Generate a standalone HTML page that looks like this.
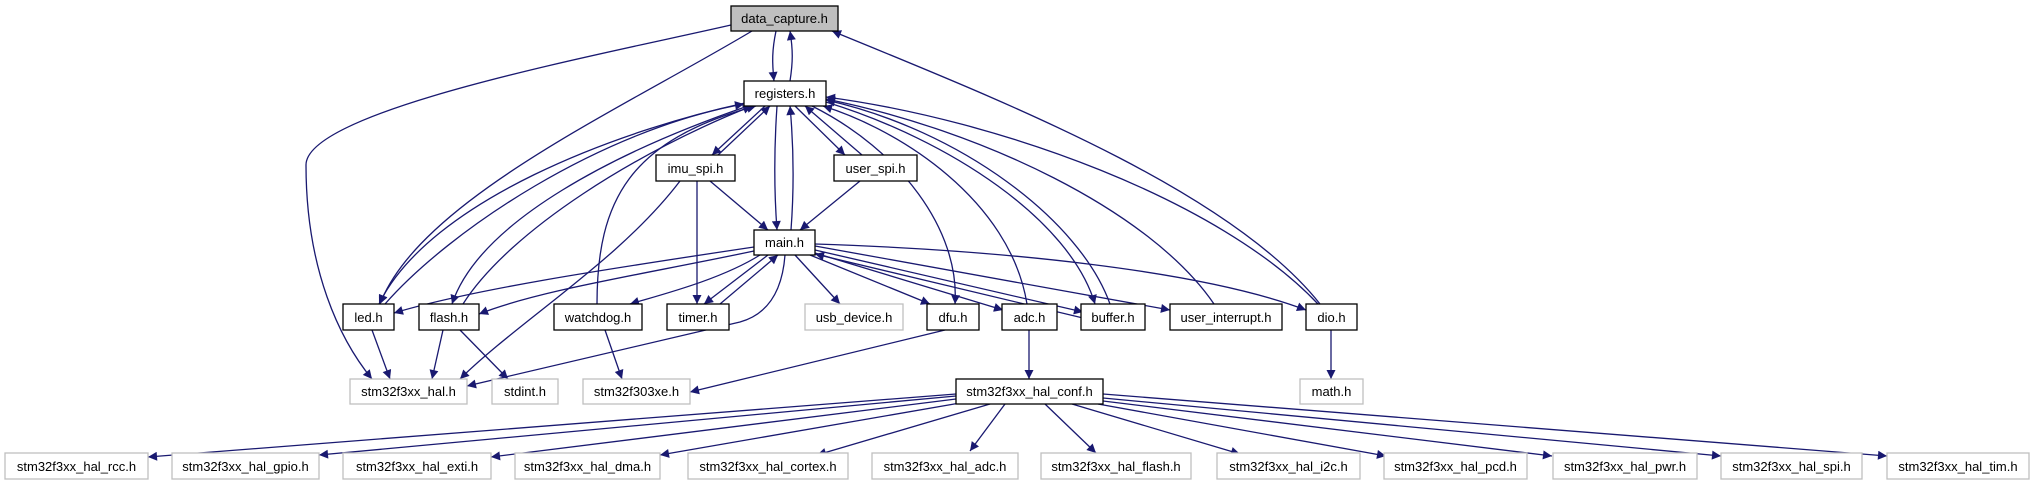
<!DOCTYPE html>
<html><head><meta charset="utf-8"><style>
html,body{margin:0;padding:0;background:#fff;}
svg{display:block;}
text{font-family:"Liberation Sans",sans-serif;font-size:13px;text-anchor:middle;fill:#000;}
.e{fill:none;stroke:#191970;stroke-width:1.3;marker-end:url(#a);}
.n{fill:#fff;stroke:#000;stroke-width:1.3;}
.g{fill:#fff;stroke:#bfbfbf;stroke-width:1.3;}
</style></head><body>
<svg width="2035" height="485" viewBox="0 0 2035 485" xmlns="http://www.w3.org/2000/svg">
<defs><marker id="a" viewBox="0 0 10 10" refX="10" refY="5" markerWidth="11" markerHeight="9" markerUnits="userSpaceOnUse" orient="auto"><path d="M0,0 L10,5 L0,10 z" fill="#191970"/></marker></defs>
<g>
<path class="e" d="M776,31 C772,50 772,62 774,81"/>
<path class="e" d="M790,81 C793,62 793,50 790,31"/>
<path class="e" d="M752,31 C620,110 420,200 380,304"/>
<path class="e" d="M731,25 C600,55 306,110 306,165 C306,270 340,340 372,379"/>
<path class="e" d="M1320,304 C1230,190 1000,100 832,31"/>
<path class="e" d="M765,106 L712,155"/>
<path class="e" d="M718,155 L770,106"/>
<path class="e" d="M795,106 L845,155"/>
<path class="e" d="M862,155 L805,106"/>
<path class="e" d="M777,106 C774,150 774,190 777,230"/>
<path class="e" d="M791,230 C794,190 794,150 790,106"/>
<path class="e" d="M745,103 C620,130 430,200 379,304"/>
<path class="e" d="M385,304 C450,230 600,130 744,104"/>
<path class="e" d="M748,106 C620,150 480,220 452,304"/>
<path class="e" d="M463,304 C510,230 640,150 752,106"/>
<path class="e" d="M597,304 C597,200 630,140 756,106"/>
<path class="e" d="M812,106 C900,150 960,230 955,304"/>
<path class="e" d="M1027,304 C1010,200 900,130 823,106"/>
<path class="e" d="M826,102 C950,140 1070,220 1095,304"/>
<path class="e" d="M1110,304 C1080,220 960,130 826,100"/>
<path class="e" d="M1214,304 C1150,210 980,130 826,99"/>
<path class="e" d="M1318,304 C1220,200 1000,120 826,97"/>
<path class="e" d="M680,181 C620,260 520,320 460,379"/>
<path class="e" d="M697,181 L697,304"/>
<path class="e" d="M710,181 L768,230"/>
<path class="e" d="M860,181 L800,230"/>
<path class="e" d="M754,247 C600,270 470,290 394,313"/>
<path class="e" d="M754,251 C640,275 540,290 479,314"/>
<path class="e" d="M760,255 C720,280 660,295 630,304"/>
<path class="e" d="M768,255 L704,304"/>
<path class="e" d="M720,304 L778,255"/>
<path class="e" d="M785,255 C782,295 765,315 740,322 L467,386"/>
<path class="e" d="M795,255 L840,304"/>
<path class="e" d="M810,255 L930,304"/>
<path class="e" d="M815,253 L1003,310"/>
<path class="e" d="M815,250 L1083,312"/>
<path class="e" d="M1083,318 L815,254"/>
<path class="e" d="M815,246 L1170,310"/>
<path class="e" d="M815,244 C1000,250 1200,270 1306,310"/>
<path class="e" d="M372,330 L390,379"/>
<path class="e" d="M443,330 L432,379"/>
<path class="e" d="M460,330 L508,379"/>
<path class="e" d="M605,330 L622,379"/>
<path class="e" d="M945,330 L690,392"/>
<path class="e" d="M1029,330 L1029,379"/>
<path class="e" d="M1331,330 L1331,379"/>
<path class="e" d="M956,394 L148,457"/>
<path class="e" d="M956,396 L319,455"/>
<path class="e" d="M956,399 L491,457"/>
<path class="e" d="M960,403 L660,455"/>
<path class="e" d="M990,404 L817,455"/>
<path class="e" d="M1005,404 L970,451"/>
<path class="e" d="M1045,404 L1096,453"/>
<path class="e" d="M1072,404 L1240,454"/>
<path class="e" d="M1098,404 L1386,456"/>
<path class="e" d="M1103,401 L1552,456"/>
<path class="e" d="M1103,398 L1721,456"/>
<path class="e" d="M1103,394 L1887,456"/>
</g>
<g>
<rect x="731" y="6" width="107" height="25" fill="#bfbfbf" stroke="#000" stroke-width="1.3"/><text x="784.5" y="23">data_capture.h</text>
<rect class="n" x="744" y="81" width="82" height="25"/><text x="785" y="98">registers.h</text>
<rect class="n" x="656" y="155" width="79" height="26"/><text x="695.5" y="173">imu_spi.h</text>
<rect class="n" x="834" y="155" width="83" height="26"/><text x="875.5" y="173">user_spi.h</text>
<rect class="n" x="754" y="230" width="61" height="25"/><text x="784.5" y="247">main.h</text>
<rect class="n" x="343" y="304" width="51" height="26"/><text x="368.5" y="322">led.h</text>
<rect class="n" x="419" y="304" width="60" height="26"/><text x="449" y="322">flash.h</text>
<rect class="n" x="554" y="304" width="88" height="26"/><text x="598" y="322">watchdog.h</text>
<rect class="n" x="667" y="304" width="62" height="26"/><text x="698" y="322">timer.h</text>
<rect class="g" x="805" y="304" width="98" height="26"/><text x="854" y="322">usb_device.h</text>
<rect class="n" x="927" y="304" width="52" height="26"/><text x="953" y="322">dfu.h</text>
<rect class="n" x="1002" y="304" width="55" height="26"/><text x="1029.5" y="322">adc.h</text>
<rect class="n" x="1081" y="304" width="64" height="26"/><text x="1113" y="322">buffer.h</text>
<rect class="n" x="1170" y="304" width="112" height="26"/><text x="1226" y="322">user_interrupt.h</text>
<rect class="n" x="1306" y="304" width="51" height="26"/><text x="1331.5" y="322">dio.h</text>
<rect class="g" x="350" y="379" width="117" height="25"/><text x="408.5" y="396">stm32f3xx_hal.h</text>
<rect class="g" x="492" y="379" width="66" height="25"/><text x="525" y="396">stdint.h</text>
<rect class="g" x="583" y="379" width="107" height="25"/><text x="636.5" y="396">stm32f303xe.h</text>
<rect class="n" x="956" y="379" width="147" height="25"/><text x="1029.5" y="396">stm32f3xx_hal_conf.h</text>
<rect class="g" x="1300" y="379" width="63" height="25"/><text x="1331.5" y="396">math.h</text>
<rect class="g" x="5" y="453" width="143" height="26"/><text x="76.5" y="471">stm32f3xx_hal_rcc.h</text>
<rect class="g" x="172" y="453" width="147" height="26"/><text x="245.5" y="471">stm32f3xx_hal_gpio.h</text>
<rect class="g" x="343" y="453" width="148" height="26"/><text x="417" y="471">stm32f3xx_hal_exti.h</text>
<rect class="g" x="515" y="453" width="145" height="26"/><text x="587.5" y="471">stm32f3xx_hal_dma.h</text>
<rect class="g" x="688" y="453" width="160" height="26"/><text x="768" y="471">stm32f3xx_hal_cortex.h</text>
<rect class="g" x="872" y="453" width="146" height="26"/><text x="945" y="471">stm32f3xx_hal_adc.h</text>
<rect class="g" x="1041" y="453" width="150" height="26"/><text x="1116" y="471">stm32f3xx_hal_flash.h</text>
<rect class="g" x="1217" y="453" width="143" height="26"/><text x="1288.5" y="471">stm32f3xx_hal_i2c.h</text>
<rect class="g" x="1384" y="453" width="143" height="26"/><text x="1455.5" y="471">stm32f3xx_hal_pcd.h</text>
<rect class="g" x="1553" y="453" width="144" height="26"/><text x="1625" y="471">stm32f3xx_hal_pwr.h</text>
<rect class="g" x="1721" y="453" width="141" height="26"/><text x="1791.5" y="471">stm32f3xx_hal_spi.h</text>
<rect class="g" x="1887" y="453" width="142" height="26"/><text x="1958" y="471">stm32f3xx_hal_tim.h</text>
</g>
</svg>
</body></html>
